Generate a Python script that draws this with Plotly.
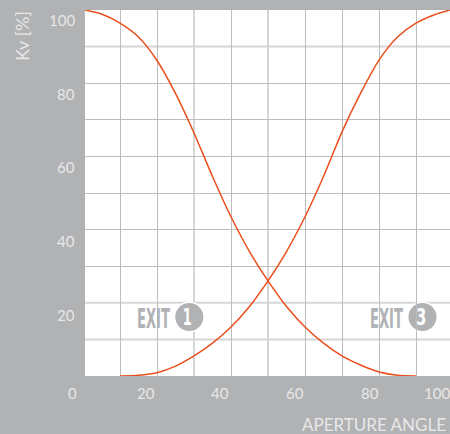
import plotly.graph_objects as go

# curve readings, aperture angle vs Kv
exit1_x = [0.5, 5, 10, 15, 20, 25, 30, 35, 40, 45, 50, 55, 60, 65, 70, 75, 80, 85, 90]
exit1_y = [100, 98.9, 96.4, 92.6, 86.2, 77.2, 66.4, 54.5, 43.5, 34, 26, 19, 13.4, 9, 5.5, 3, 1.1, 0.2, 0]
exit3_x = [10, 15, 20, 25, 30, 35, 40, 45, 50, 55, 60, 65, 70, 75, 80, 85, 90, 95, 99.2]
exit3_y = [0, 0.2, 0.9, 2.7, 5.5, 9, 13.4, 19, 26, 34, 43.5, 54.5, 66.7, 77.2, 86.3, 92.6, 96.4, 98.7, 100]

grid_x = [10, 20, 40, 60, 70, 80, 90]
grid_y = [30, 40, 50, 60, 70, 80]
# these gridlines come out wider and paler in the original
pale_x = [30, 50]
pale_y = [10, 20, 90]
x_labels = ["0", "20", "40", "60", "80", "100"]
y_labels = ["100", "80", "60", "40", "20"]

BG = "#b1b2b4"
TXT = "#e8e8e9"
RED = "#ea4f1c"
GRID = "#bdbdbd"
PALE = "#d6d6d6"
W, H = 450, 434
L, R, T, B = 85, 450, 10, 376
NARROW = "Liberation Sans Narrow, DejaVu Sans Condensed, Noto Sans"


# paper coords run over the plot area only, so convert from page pixels
def px(x):
    return (x - L) / (R - L)


def py(y):
    return (B - y) / (B - T)


def label(text, x, y, size=15, xanchor="center", yanchor="middle", family="Lato", color=TXT, **kw):
    return dict(text=text, x=px(x), y=py(y), xref="paper", yref="paper", showarrow=False,
                xanchor=xanchor, yanchor=yanchor, font=dict(family=family, size=size, color=color), **kw)


fig = go.Figure()
for xs, ys, name in [(exit1_x, exit1_y, "Exit 1"), (exit3_x, exit3_y, "Exit 3")]:
    fig.add_trace(go.Scatter(x=xs, y=ys, mode="lines", name=name,
                             line=dict(color=RED, width=1.5, shape="spline", smoothing=0.8)))

annots = []
# tick labels sit off the gridlines in the original, so they are placed by hand
for lab, x in zip(x_labels, [72, 146, 220, 295, 370, 437]):
    annots.append(label(lab, x, 393))
for lab, y in zip(y_labels, [20, 94, 167, 241, 315]):
    annots.append(label(lab, 77, y, xanchor="right"))
annots.append(label("Kv [%]", 22, 36, size=18, textangle=-90))
annots.append(label("APERTURE ANGLE", 448, 424, size=17, xanchor="right"))

shapes = []
for v in pale_x:
    shapes.append(dict(type="line", xref="x", yref="paper", x0=v, x1=v, y0=0, y1=1,
                       layer="below", line=dict(color=PALE, width=2)))
for v in pale_y:
    shapes.append(dict(type="line", xref="paper", yref="y", x0=0, x1=1, y0=v, y1=v,
                       layer="below", line=dict(color=PALE, width=2)))

for exit_no, tx, cx in [("1", 153.7, 189.3), ("3", 386, 422.5)]:
    annots.append(label("<b>EXIT</b>", tx, 318, size=27, family=NARROW, color=BG))
    shapes.append(dict(type="circle", xref="paper", yref="paper", layer="below",
                       x0=px(cx - 15.5), x1=px(cx + 15.5), y0=py(317 + 15.5), y1=py(317 - 15.5),
                       fillcolor="white", line_width=0))
    shapes.append(dict(type="circle", xref="paper", yref="paper", layer="below",
                       x0=px(cx - 14), x1=px(cx + 14), y0=py(317 + 14), y1=py(317 - 14),
                       fillcolor=BG, line_width=0))
    # squeezed digit lands right of centre, so nudge it back
    annots.append(label(f"<b>{exit_no}</b>", cx - 2, 317, size=23, family=NARROW, color="white"))

fig.update_layout(
    width=W, height=H, autosize=False,
    margin=dict(l=L, r=W - R, t=T, b=H - B, pad=0),
    paper_bgcolor=BG, plot_bgcolor="white",
    showlegend=False,
    annotations=annots, shapes=shapes,
)
fig.update_xaxes(range=[0.54, 99.19], tickvals=grid_x, showticklabels=False, ticks="",
                 showgrid=True, gridcolor=GRID, gridwidth=1, zeroline=False, showline=False)
fig.update_yaxes(range=[0, 100], tickvals=grid_y, showticklabels=False, ticks="",
                 showgrid=True, gridcolor=GRID, gridwidth=1, zeroline=False, showline=False)

# squeeze the EXIT labels and digits, no condensed heavy font is installed
squeeze = """
document.body.style.margin = '0';
var widths = {EXIT: '33', '1': '9', '3': '10'};
document.querySelectorAll('.annotation-text').forEach(function (t) {
  var w = widths[t.textContent];
  if (w) {
    t.setAttribute('textLength', w);
    t.setAttribute('lengthAdjust', 'spacingAndGlyphs');
  }
});
"""
fig.write_html("out.html", config=dict(displayModeBar=False), post_script=squeeze)
